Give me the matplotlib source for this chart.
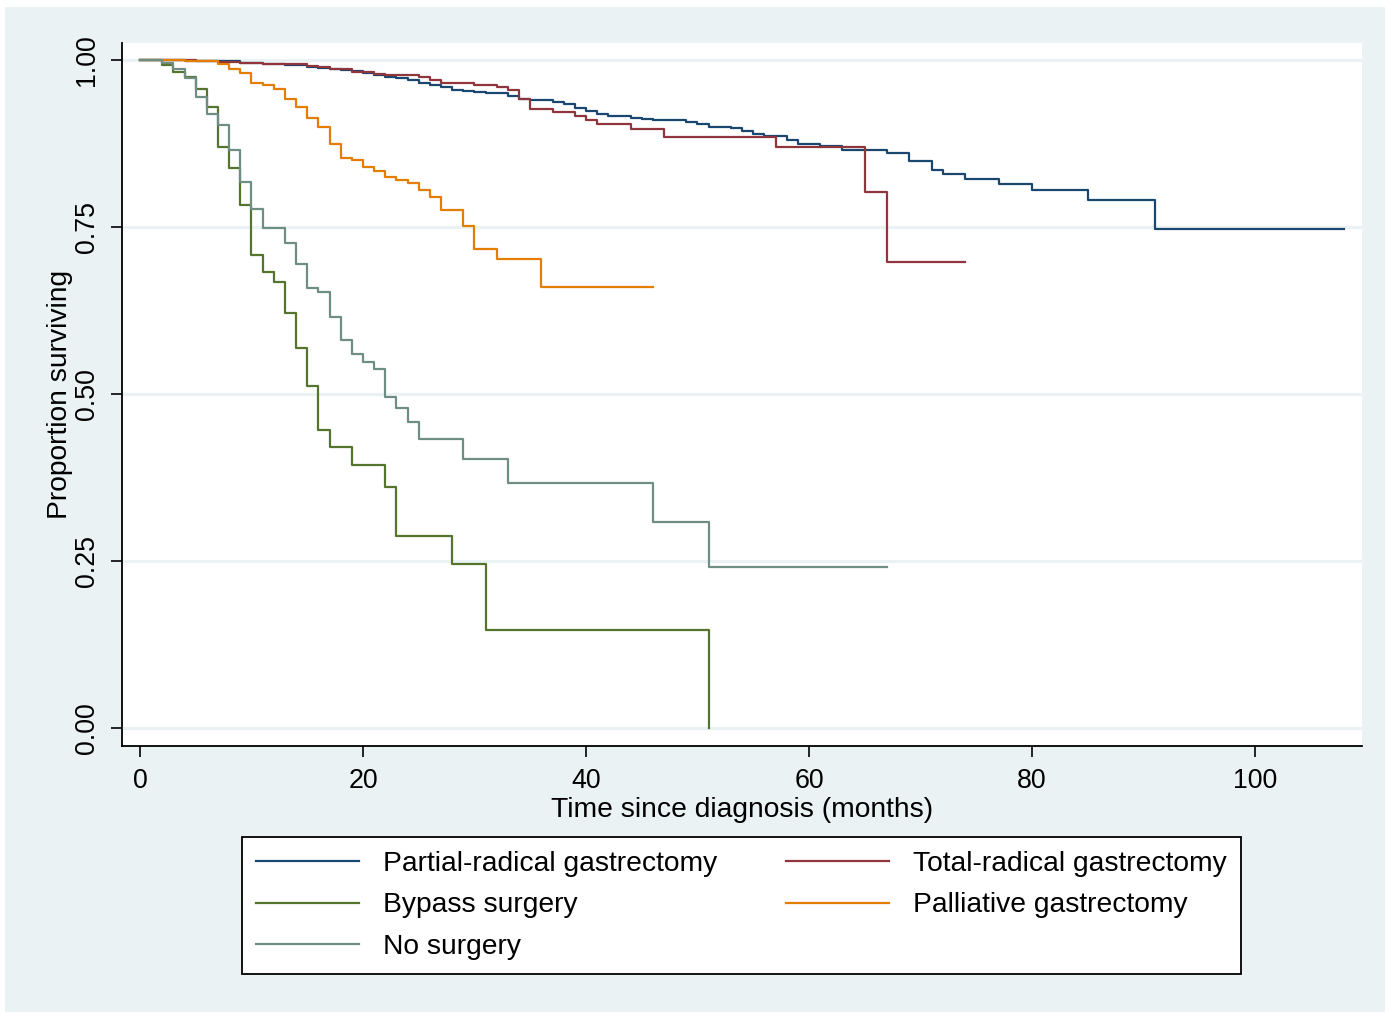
import matplotlib.pyplot as plt
from matplotlib.patches import Rectangle

plt.rcParams['font.family'] = ['Liberation Sans', 'DejaVu Sans']

# Kaplan-Meier estimates by treatment group (event times in months)
partial_t = [0, 4, 7, 9, 11, 13, 15, 16, 17, 18, 19, 20, 21, 22, 23, 24, 25, 26, 27,
             28, 29, 30, 31, 33, 34, 35, 37, 38, 39, 40, 41, 42, 44, 45, 46, 49, 50,
             51, 53, 54, 55, 56, 58, 59, 61, 63, 67, 69, 71, 72, 74, 77, 80, 85, 91]
partial_s = [1.0, 0.999, 0.998, 0.996, 0.994, 0.992, 0.990, 0.988, 0.986, 0.985,
             0.983, 0.981, 0.978, 0.975, 0.9725, 0.970, 0.966, 0.963, 0.959, 0.955,
             0.9536, 0.9516, 0.950, 0.946, 0.941, 0.940, 0.9376, 0.934, 0.9286, 0.924,
             0.919, 0.916, 0.9137, 0.9117, 0.910, 0.9067, 0.904, 0.900, 0.8977, 0.894,
             0.889, 0.887, 0.880, 0.875, 0.871, 0.866, 0.861, 0.849, 0.836, 0.829,
             0.822, 0.814, 0.805, 0.790, 0.747]
partial_end = 108

total_t = [0, 5, 7, 9, 11, 15, 16, 17, 19, 21, 22, 25, 26, 27, 28, 30, 32, 33, 34, 35,
           37, 39, 40, 41, 44, 47, 57, 65, 67]
total_s = [1.0, 0.9985, 0.9975, 0.996, 0.994, 0.991, 0.989, 0.986, 0.9825, 0.979,
           0.9775, 0.975, 0.970, 0.966, 0.965, 0.9626, 0.960, 0.955, 0.941, 0.927,
           0.9226, 0.916, 0.910, 0.904, 0.896, 0.885, 0.870, 0.803, 0.698]
total_end = 74

bypass_t = [0, 2, 3, 4, 5, 6, 7, 8, 9, 10, 11, 12, 13, 14, 15, 16, 17, 19, 22, 23,
            28, 31, 51]
bypass_s = [1.0, 0.9925, 0.982, 0.974, 0.957, 0.930, 0.870, 0.839, 0.783, 0.708,
            0.682, 0.667, 0.621, 0.569, 0.512, 0.446, 0.421, 0.393, 0.361, 0.288,
            0.245, 0.147, 0.0]
bypass_end = 51

palliative_t = [0, 2, 4, 7, 8, 9, 10, 11, 12, 13, 14, 15, 16, 17, 18, 19, 20, 21, 22,
                23, 24, 25, 26, 27, 29, 30, 32, 36]
palliative_s = [1.0, 0.9995, 0.998, 0.994, 0.987, 0.980, 0.966, 0.963, 0.957, 0.942,
                0.929, 0.913, 0.900, 0.874, 0.854, 0.851, 0.840, 0.834, 0.825, 0.821,
                0.816, 0.806, 0.795, 0.775, 0.7515, 0.7176, 0.7026, 0.6607]
palliative_end = 46

none_t = [0, 2, 3, 4, 5, 6, 7, 8, 9, 10, 11, 13, 14, 15, 16, 17, 18, 19, 20, 21, 22,
          23, 24, 25, 29, 33, 46, 51]
none_s = [1.0, 0.995, 0.986, 0.973, 0.945, 0.919, 0.903, 0.865, 0.817, 0.777, 0.748,
          0.726, 0.695, 0.659, 0.653, 0.616, 0.581, 0.560, 0.548, 0.537, 0.496, 0.479,
          0.458, 0.433, 0.403, 0.367, 0.308, 0.241]
none_end = 67

groups = [
    ("Partial-radical gastrectomy", partial_t, partial_s, partial_end, "#1a476f"),
    ("Total-radical gastrectomy", total_t, total_s, total_end, "#90353b"),
    ("Bypass surgery", bypass_t, bypass_s, bypass_end, "#55752f"),
    ("Palliative gastrectomy", palliative_t, palliative_s, palliative_end, "#e37e00"),
    ("No surgery", none_t, none_s, none_end, "#6e8e84"),
]

x_ticks = [0, 20, 40, 60, 80, 100]
y_ticks = [0.0, 0.25, 0.5, 0.75, 1.0]
y_tick_labels = ["0.00", "0.25", "0.50", "0.75", "1.00"]

W, H = 1390, 1017
fig = plt.figure(figsize=(W / 100, H / 100), dpi=100, facecolor="white")
fig.patches.append(Rectangle((5 / W, 5 / H), 1380 / W, 1005 / H,
                             transform=fig.transFigure, facecolor="#eaf2f3",
                             edgecolor="none", zorder=-10))

ax = fig.add_axes([122 / W, 1 - 746 / H, 1240 / W, 703 / H])
ax.set_facecolor("white")

lines = {}
for name, t, s, end, col in groups:
    tt = list(t)
    ss = list(s)
    if end > tt[-1]:
        tt.append(end)
        ss.append(ss[-1])
    ln, = ax.step(tt, ss, where="post", color=col, lw=1.6, label=name)
    lines[name] = ln

ax.set_xlim(-1.614, 109.6)
ax.set_ylim(-0.027, 1.0255)
ax.set_xticks(x_ticks)
ax.set_yticks(y_ticks)
ax.set_yticklabels(y_tick_labels, rotation=90, va="center")
ax.grid(axis="y", color="#eaf2f3", lw=2.2)
ax.set_axisbelow(True)

for side in ("top", "right"):
    ax.spines[side].set_visible(False)
for side in ("left", "bottom"):
    ax.spines[side].set_linewidth(1.3)
    ax.spines[side].set_color("black")
ax.tick_params(axis="both", direction="out", length=8, width=1.2,
               labelsize=19.3, pad=8)

ax.set_xlabel("Time since diagnosis (months)", fontsize=20.3, labelpad=2)
ax.set_ylabel("Proportion surviving", fontsize=20.3, labelpad=0.5)

order = ["Partial-radical gastrectomy", "Bypass surgery", "No surgery",
         "Total-radical gastrectomy", "Palliative gastrectomy"]
leg = fig.legend([lines[n] for n in order], order, ncol=2,
                 loc="center", bbox_to_anchor=(741.5 / W, 1 - 905.5 / H),
                 fontsize=20.3, frameon=True, fancybox=False,
                 handlelength=3.65, handletextpad=0.85, columnspacing=2.45,
                 labelspacing=0.56, borderpad=0.5)
leg.get_frame().set_edgecolor("black")
leg.get_frame().set_linewidth(1.3)
leg.get_frame().set_facecolor("white")
leg.get_frame().set_alpha(1)

fig.savefig("out.png", dpi=100, facecolor=fig.get_facecolor())
